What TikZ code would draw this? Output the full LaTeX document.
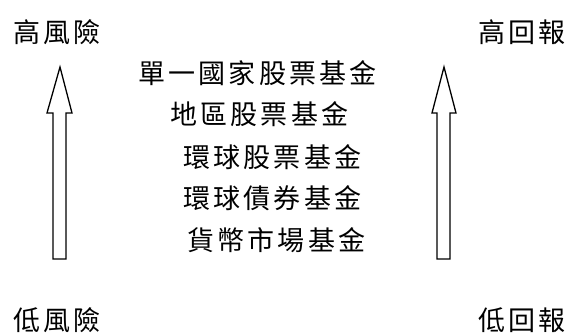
\documentclass[tikz,border=0pt]{standalone}
\usepackage{fontspec}
\usepackage{xcolor}
\usetikzlibrary{positioning}
\newfontfamily\cjk[LetterSpace=12]{Noto Sans CJK TC}
\tikzset{
    label/.style={font=\cjk\fontsize{27}{30}\selectfont, inner sep=0pt},
    fund/.style={label, anchor=west},
    hollow/.style={draw=black, line width=1.3pt, fill=white, line join=miter}
}

\begin{document}
\begin{tikzpicture}[x=1pt, y=-1pt]
            \useasboundingbox (0,0) rectangle (568,333);
            % Corner labels
            \node[label] (hirisk) at (57, 32) {高風險};
            \node[label] (lorisk) at (57, 320) {低風險};
            \node[label] (hiret) at (522, 32) {高回報};
            \node[label] (loret) at (522, 320) {低回報};

            % Hollow arrows
            \draw[hollow] (60,67) -- (72,113) -- (66,113) -- (66,259) -- (53,259)
                -- (53,113) -- (47,113) -- cycle;
            \draw[hollow] (444,67) -- (456,113) -- (450,113) -- (450,259) -- (437,259)
                -- (437,113) -- (432,113) -- cycle;

            % Fund types
            \node[fund] (single) at (138, 73) {單一國家股票基金};
            \node[fund] (region) at (170, 114) {地區股票基金};
            \node[fund] (gequity) at (183, 157) {環球股票基金};
            \node[fund] (gbond) at (183, 198) {環球債券基金};
            \node[fund] (money) at (187, 240) {貨幣市場基金};
        \end{tikzpicture}
\end{document}
